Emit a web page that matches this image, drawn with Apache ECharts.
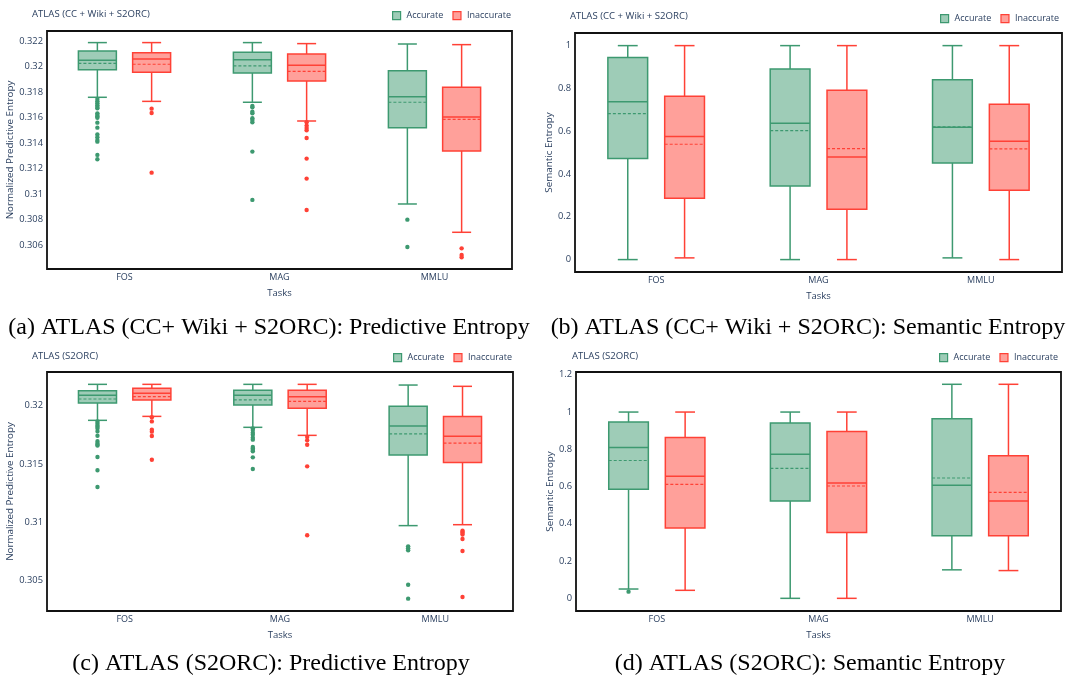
<!DOCTYPE html>
<html><head><meta charset="utf-8">
<script src="https://cdn.jsdelivr.net/npm/echarts@6/dist/echarts.min.js"></script>
<style>html,body{margin:0;padding:0;background:#fff}#c{width:1068px;height:679px}</style>
</head><body><div id="c"></div>
<script>
const categories = ['FOS', 'MAG', 'MMLU'];
const seriesNames = ['Accurate', 'Inaccurate'];
// box stats per task: [lower whisker, Q1, median, Q3, upper whisker, mean]
const aAccurate = [
  [0.31761, 0.31978, 0.32051, 0.32124, 0.3219, 0.32027],
  [0.31722, 0.31952, 0.32056, 0.32114, 0.3219, 0.32007],
  [0.30924, 0.31523, 0.31766, 0.3197, 0.32179, 0.31722]
];
const aInaccurate = [
  [0.31729, 0.31957, 0.32061, 0.32111, 0.3219, 0.3202],
  [0.31575, 0.31889, 0.32012, 0.32101, 0.32182, 0.31965],
  [0.30702, 0.3134, 0.31607, 0.31839, 0.32174, 0.31588]
];
const aAccurateOutliers = [
  [0.31748, 0.3173, 0.31714, 0.31698, 0.31685, 0.31675, 0.31635, 0.31622, 0.3161, 0.31601, 0.31562, 0.31523, 0.3147, 0.31447, 0.31425, 0.31413, 0.31309, 0.31275],
  [0.31693, 0.31683, 0.31648, 0.31635, 0.31596, 0.31583, 0.31565, 0.31335, 0.30956],
  [0.30801, 0.30587]
];
const aInaccurateOutliers = [
  [0.31672, 0.31638, 0.3117],
  [0.31565, 0.31539, 0.3152, 0.31502, 0.31442, 0.3128, 0.31123, 0.30877],
  [0.30576, 0.30524, 0.30506]
];
const bAccurate = [
  [0, 0.472, 0.738, 0.944, 1, 0.682],
  [0, 0.344, 0.637, 0.891, 1, 0.603],
  [0.008, 0.452, 0.618, 0.841, 1, 0.62]
];
const bInaccurate = [
  [0.008, 0.287, 0.575, 0.763, 1, 0.539],
  [0, 0.235, 0.48, 0.791, 1, 0.519],
  [0, 0.324, 0.553, 0.726, 1, 0.517]
];
const bAccurateOutliers = [[], [], []];
const bInaccurateOutliers = [[], [], []];
const cAccurate = [
  [0.31874, 0.32023, 0.32089, 0.32129, 0.32183, 0.32057],
  [0.31814, 0.32006, 0.32089, 0.32132, 0.32183, 0.32049],
  [0.3097, 0.31576, 0.31825, 0.31994, 0.32177, 0.31757]
];
const cInaccurate = [
  [0.31908, 0.32049, 0.32106, 0.32149, 0.32183, 0.32077],
  [0.31745, 0.31977, 0.32077, 0.32132, 0.32183, 0.32037],
  [0.30978, 0.31511, 0.31737, 0.31906, 0.32166, 0.31679]
];
const cAccurateOutliers = [
  [0.31865, 0.31848, 0.31832, 0.3182, 0.31805, 0.3178, 0.31742, 0.31694, 0.31678, 0.31665, 0.31657, 0.31559, 0.31445, 0.31302],
  [0.31805, 0.3179, 0.31768, 0.3175, 0.31725, 0.31708, 0.31645, 0.31632, 0.3162, 0.31608, 0.31556, 0.31456],
  [0.30792, 0.30775, 0.30758, 0.30463, 0.30343]
];
const cInaccurateOutliers = [
  [0.319, 0.31865, 0.31794, 0.31777, 0.3174, 0.31536],
  [0.31731, 0.31702, 0.31665, 0.31479, 0.30887],
  [0.30927, 0.30915, 0.30907, 0.30893, 0.30855, 0.30752, 0.30357]
];
const dAccurate = [
  [0.05, 0.585, 0.81, 0.946, 1, 0.74],
  [0, 0.522, 0.774, 0.941, 1, 0.698],
  [0.153, 0.336, 0.607, 0.964, 1.149, 0.646]
];
const dInaccurate = [
  [0.043, 0.377, 0.655, 0.864, 1, 0.612],
  [0, 0.354, 0.619, 0.896, 1, 0.603],
  [0.149, 0.336, 0.522, 0.765, 1.149, 0.569]
];
const dAccurateOutliers = [[0.036], [], []];
const dInaccurateOutliers = [[], [], []];

const panelTitles = ['ATLAS (CC + Wiki + S2ORC)', 'ATLAS (CC + Wiki + S2ORC)', 'ATLAS (S2ORC)', 'ATLAS (S2ORC)'];
const yNames = ['Normalized Predictive Entropy', 'Semantic Entropy', 'Normalized Predictive Entropy', 'Semantic Entropy'];
const captions = [
  '(a) ATLAS (CC+ Wiki + S2ORC): Predictive Entropy',
  '(b) ATLAS (CC+ Wiki + S2ORC): Semantic Entropy',
  '(c) ATLAS (S2ORC): Predictive Entropy',
  '(d) ATLAS (S2ORC): Semantic Entropy'
];
const xName = 'Tasks';

const panelData = [
  [aAccurate, aInaccurate, aAccurateOutliers, aInaccurateOutliers],
  [bAccurate, bInaccurate, bAccurateOutliers, bInaccurateOutliers],
  [cAccurate, cInaccurate, cAccurateOutliers, cInaccurateOutliers],
  [dAccurate, dInaccurate, dAccurateOutliers, dInaccurateOutliers]
];

// layout (not data)
const layout = [
  {grid: {left: 47, top: 31, width: 465, height: 238}, y: {min: 0.30414, max: 0.32281, split: 9}, nameGap: 30,
   title: {left: 32, top: 9}, legend: {left: 392, top: 11}, cap: [269, 328]},
  {grid: {left: 575, top: 33, width: 487, height: 239}, y: {min: -0.058, max: 1.059, split: 5}, nameGap: 20,
   title: {left: 570, top: 11}, legend: {left: 940, top: 14}, cap: [808, 328]},
  {grid: {left: 47, top: 372, width: 466, height: 239}, y: {min: 0.30237, max: 0.32289, split: 4}, nameGap: 30,
   title: {left: 32, top: 351}, legend: {left: 393, top: 353}, cap: [271, 664]},
  {grid: {left: 576, top: 372, width: 485, height: 239}, y: {min: -0.068, max: 1.215, split: 6}, nameGap: 20,
   title: {left: 572, top: 351}, legend: {left: 939, top: 353}, cap: [810, 664]}
];

const FONT = '"Open Sans", sans-serif';
const TXT = '#2a3f5f';
const STROKE = ['#3D9970', '#FF4136'];
const FILL = ['rgba(61,153,112,0.5)', 'rgba(255,65,54,0.5)'];
const OFFSET = [-0.175, 0.175];
const BOX_W = 0.245;

function makeBoxRender(offset, stroke, fill) {
  return function (params, api) {
    const ci = api.value(0);
    const band = api.size([1, 0])[0];
    const cx = api.coord([ci, 0])[0] + offset * band;
    const hw = BOX_W * band / 2;
    const cap = hw / 2;
    const py = k => api.coord([ci, api.value(k)])[1];
    const yLow = py(1), yQ1 = py(2), yMed = py(3), yQ3 = py(4), yHigh = py(5), yMean = py(6);
    const ls = {stroke: stroke, lineWidth: 1.5, fill: null};
    return {type: 'group', children: [
      {type: 'line', shape: {x1: cx, y1: yQ1, x2: cx, y2: yLow}, style: ls},
      {type: 'line', shape: {x1: cx, y1: yQ3, x2: cx, y2: yHigh}, style: ls},
      {type: 'line', shape: {x1: cx - cap, y1: yLow, x2: cx + cap, y2: yLow}, style: ls},
      {type: 'line', shape: {x1: cx - cap, y1: yHigh, x2: cx + cap, y2: yHigh}, style: ls},
      {type: 'rect', shape: {x: cx - hw, y: yQ3, width: 2 * hw, height: yQ1 - yQ3}, style: {fill: fill, stroke: stroke, lineWidth: 1.5}},
      {type: 'line', shape: {x1: cx - hw, y1: yMed, x2: cx + hw, y2: yMed}, style: ls},
      {type: 'line', shape: {x1: cx - hw, y1: yMean, x2: cx + hw, y2: yMean}, style: {stroke: stroke, lineWidth: 1.2, lineDash: [3, 2], fill: null}}
    ]};
  };
}
function makeOutlierRender(offset, color) {
  return function (params, api) {
    const ci = api.value(0);
    const band = api.size([1, 0])[0];
    const p = api.coord([ci, api.value(1)]);
    return {type: 'circle', shape: {cx: p[0] + offset * band, cy: p[1], r: 2.2}, style: {fill: color}};
  };
}

const grids = [], xAxes = [], yAxes = [], series = [], titles = [], legends = [], graphics = [];
layout.forEach((L, p) => {
  grids.push(Object.assign({show: true, borderColor: '#111', borderWidth: 1.8, backgroundColor: '#fff', outerBoundsMode: 'none', containLabel: false}, L.grid));
  xAxes.push({gridIndex: p, type: 'category', data: categories,
    axisLine: {show: false}, axisTick: {show: false}, splitLine: {show: false},
    axisLabel: {color: TXT, fontSize: 9, margin: 4, fontFamily: FONT},
    name: xName, nameLocation: 'middle', nameGap: 19,
    nameTextStyle: {color: TXT, fontSize: 9.5, fontFamily: FONT}});
  yAxes.push({gridIndex: p, type: 'value', min: L.y.min, max: L.y.max, splitNumber: L.y.split,
    axisLine: {show: false}, axisTick: {show: false}, splitLine: {show: false},
    axisLabel: {color: TXT, fontSize: 9.3, margin: 4, fontFamily: FONT, showMinLabel: false, showMaxLabel: false},
    name: yNames[p], nameLocation: 'middle', nameGap: L.nameGap,
    nameTextStyle: {color: TXT, fontSize: 9.8, fontFamily: FONT}});
  const [acc, inacc, accOut, inaccOut] = panelData[p];
  [acc, inacc].forEach((stats, s) => {
    series.push({type: 'custom', name: seriesNames[s], xAxisIndex: p, yAxisIndex: p,
      renderItem: makeBoxRender(OFFSET[s], STROKE[s], FILL[s]),
      encode: {x: 0, y: [1, 2, 3, 4, 5, 6]},
      itemStyle: {color: FILL[s], borderColor: STROKE[s]},
      data: stats.map((v, i) => [i].concat(v))});
  });
  [accOut, inaccOut].forEach((outs, s) => {
    const d = [];
    outs.forEach((list, i) => list.forEach(v => d.push([i, v])));
    series.push({type: 'custom', name: seriesNames[s], xAxisIndex: p, yAxisIndex: p,
      renderItem: makeOutlierRender(OFFSET[s], STROKE[s]),
      encode: {x: 0, y: 1}, z: 3,
      itemStyle: {color: FILL[s], borderColor: STROKE[s]},
      data: d});
  });
  titles.push({text: panelTitles[p], left: L.title.left, top: L.title.top, padding: 0,
    textStyle: {fontSize: 9.6, fontWeight: 'normal', color: TXT, fontFamily: FONT}});
  legends.push({left: L.legend.left, top: L.legend.top, padding: 0, orient: 'horizontal',
    itemWidth: 8, itemHeight: 8, itemGap: 9, selectedMode: false,
    textStyle: {fontSize: 9, color: TXT, fontFamily: FONT, padding: [0, 0, 0, 1]},
    data: seriesNames.map((n, s) => ({name: n, icon: 'rect',
      itemStyle: {color: FILL[s], borderColor: STROKE[s], borderWidth: 1.2}}))});
  graphics.push({type: 'text', x: L.cap[0], y: L.cap[1],
    style: {text: captions[p], font: '24px "Liberation Serif", serif', fill: '#000',
      align: 'center', verticalAlign: 'middle', textAlign: 'center', textVerticalAlign: 'middle'}});
});

const chart = echarts.init(document.getElementById('c'), null, {renderer: 'canvas'});
chart.setOption({
  backgroundColor: '#fff',
  animation: false,
  title: titles,
  legend: legends,
  grid: grids,
  xAxis: xAxes,
  yAxis: yAxes,
  series: series,
  graphic: graphics
});
</script>
</body></html>
